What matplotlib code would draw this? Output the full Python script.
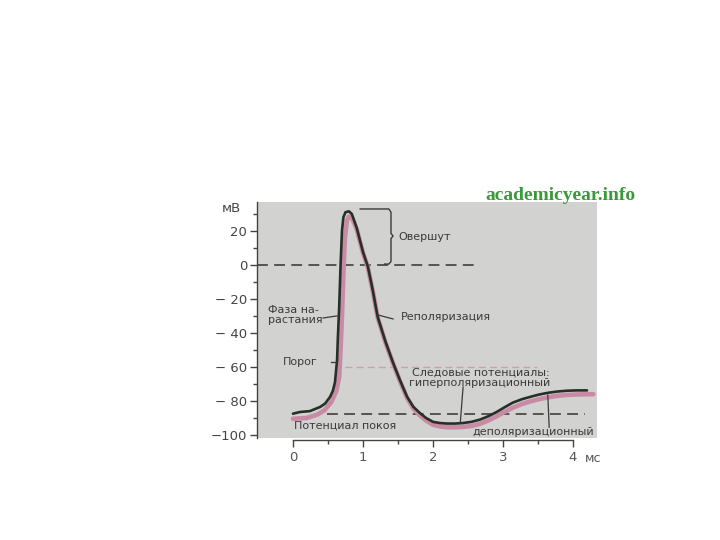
import matplotlib
matplotlib.use("Agg")
import matplotlib.pyplot as plt

# Data (time in ms, membrane potential in mV)
t_black = [0, 0.1, 0.24, 0.39, 0.46, 0.53, 0.57, 0.6, 0.63, 0.64, 0.66, 0.68, 0.70, 0.72,
           0.75, 0.8, 0.84, 0.91, 1.0, 1.07, 1.14, 1.21, 1.32, 1.43, 1.53, 1.63, 1.72, 1.81,
           1.9, 2.0, 2.1, 2.2, 2.32, 2.43, 2.55, 2.67, 2.79, 2.91, 3.02, 3.14, 3.27, 3.39,
           3.51, 3.63, 3.77, 3.91, 4.05, 4.2]
v_black = [-87.5, -86.5, -86, -83.5, -81.5, -77.6, -74, -69, -56, -44, -25, 0, 20, 28,
           31, 31.5, 30, 21.8, 7.6, -1, -15, -30.6, -45, -57.6, -68, -77.6, -83.5, -87,
           -90, -92.3, -93, -93.3, -93.3, -93, -92.3, -91, -89, -86.5, -83.8, -81, -79, -77.6,
           -76.3, -75.3, -74.5, -74, -73.8, -73.8]

t_pink = [0, 0.2, 0.35, 0.45, 0.55, 0.62, 0.66, 0.68, 0.70, 0.72, 0.74, 0.77, 0.8, 0.84,
          0.91, 1.0, 1.07, 1.14, 1.21, 1.32, 1.43, 1.53, 1.63, 1.72, 1.81, 1.9, 2.0, 2.1,
          2.2, 2.32, 2.43, 2.55, 2.67, 2.79, 2.91, 3.02, 3.14, 3.27, 3.39, 3.51, 3.63, 3.77,
          3.91, 4.05, 4.29]
v_pink = [-90.5, -90, -88, -85.5, -80.5, -74, -66, -50, -30, -5, 15, 26, 28.5, 28,
          21, 7, -1.5, -15.5, -31, -45.5, -58, -68.5, -78.3, -84.5, -88.5, -91.5, -94, -95,
          -95.5, -95.5, -95.3, -94.7, -93.5, -91.5, -89, -86.5, -84, -81.8, -80.3, -79, -78, -77,
          -76.5, -76.2, -76]

zero_level = 0
threshold = -60
rest_level = -87.5

y_ticks = [20, 0, -20, -40, -60, -80, -100]
y_labels = ["20", "0", "\u2212 20", "\u2212 40", "\u2212 60", "\u2212 80", "\u2212100"]
x_ticks = [0, 1, 2, 3, 4]
x_labels = ["0", "1", "2", "3", "4"]

fig = plt.figure(figsize=(7.2, 5.4), dpi=100)
fig.patch.set_facecolor("white")
ax = fig.add_axes([257/720, 1-438/540, 340/720, 236/540])
ax.set_facecolor("#d2d2d0")
ax.set_xlim(-0.514, 4.343)
ax.set_ylim(-101.8, 37)

txt = "#3a3a3a"
# reference lines
ax.plot([-0.514, 2.64], [zero_level, zero_level], color="#4a4a4a", lw=1.3, dashes=(6, 3.5))
ax.plot([0.49, 4.17], [rest_level, rest_level], color="#4a4a4a", lw=1.3, dashes=(6, 3.5))
ax.plot([0.74, 3.49], [threshold, threshold], color="#d39ab3", lw=1.0, dashes=(5, 3))

# curves
ax.plot(t_pink, v_pink, color="#c98aa6", lw=3.3, solid_capstyle="round", solid_joinstyle="round")
ax.plot(t_black, v_black, color="#263026", lw=1.9, solid_capstyle="round", solid_joinstyle="round")

# overshoot brace
bx = [0.96, 1.37, 1.40, 1.40, 1.43, 1.40, 1.40, 1.37, 1.31]
by = [32.9, 32.9, 31.0, 18.5, 17.0, 15.5, 2.0, 0.5, 0.5]
ax.plot(bx, by, color="#3a3a3a", lw=1.0)

fs = 8
ax.text(1.5, 16.5, "Овершут", fontsize=fs, color=txt, ha="left", va="center")
ax.text(-0.357, -29.4, "Фаза на-\nрастания", fontsize=fs, color=txt, ha="left", va="center",
        linespacing=1.0)
ax.plot([0.43, 0.63], [-31.2, -30], color="#3a3a3a", lw=0.9)
ax.text(1.54, -30.6, "Реполяризация", fontsize=fs, color=txt, ha="left", va="center")
ax.plot([1.21, 1.43], [-29.4, -31.8], color="#3a3a3a", lw=0.9)
ax.text(-0.14, -57, "Порог", fontsize=fs, color=txt, ha="left", va="center")
ax.plot([0.54, 0.61], [-57, -57], color="#3a3a3a", lw=0.9)
ax.text(1.70, -63, "Следовые потенциалы:", fontsize=fs, color=txt, ha="left", va="center")
ax.text(1.66, -69.4, "гиперполяризационный", fontsize=fs, color=txt, ha="left", va="center")
ax.plot([2.43, 2.39], [-71.8, -92.9], color="#3a3a3a", lw=0.9)
ax.text(2.56, -98.2, "деполяризационный", fontsize=fs, color=txt, ha="left", va="center")
ax.plot([3.64, 3.66], [-76.5, -95.5], color="#3a3a3a", lw=0.9)
ax.text(0.01, -94.7, "Потенциал покоя", fontsize=fs, color=txt, ha="left", va="center")

# axes styling
for s in ["top", "right"]:
    ax.spines[s].set_visible(False)
ax.spines["left"].set_color("#444444")
ax.spines["left"].set_linewidth(1.0)
ax.spines["left"].set_bounds(-101.8, 37)
ax.spines["bottom"].set_color("#444444")
ax.spines["bottom"].set_linewidth(1.0)
ax.spines["bottom"].set_position(("outward", 1.5))
ax.spines["bottom"].set_bounds(0, 4.0)

ax.set_yticks(y_ticks)
ax.set_yticklabels(y_labels)
ax.set_yticks([30, 10, -10, -30, -50, -70, -90], minor=True)
ax.set_xticks(x_ticks)
ax.set_xticklabels(x_labels)
ax.set_xticks([0.5, 1.5, 2.5, 3.5], minor=True)
ax.tick_params(axis="y", which="major", length=5, width=1, color="#444444", labelsize=9.5,
               labelcolor="#444444", pad=2)
ax.tick_params(axis="y", which="minor", length=3, width=1, color="#444444")
ax.tick_params(axis="x", which="major", length=5, width=1, color="#444444", labelsize=9.5,
               labelcolor="#555555", pad=3)
ax.tick_params(axis="x", which="minor", length=3, width=1, color="#444444")

fig.text(593/720, 1-458/540, "мс", fontsize=9, color="#555555", ha="center", va="center")
fig.text(231/720, 1-209/540, "мВ", fontsize=9.5, color="#444444", ha="center", va="center")
fig.text(560/720, 1-195/540, "academicyear.info", fontsize=14, color="#3a9a3a",
         family="Liberation Serif", fontweight="bold", ha="center", va="center")

fig.savefig("out.png", dpi=100, facecolor="white")
